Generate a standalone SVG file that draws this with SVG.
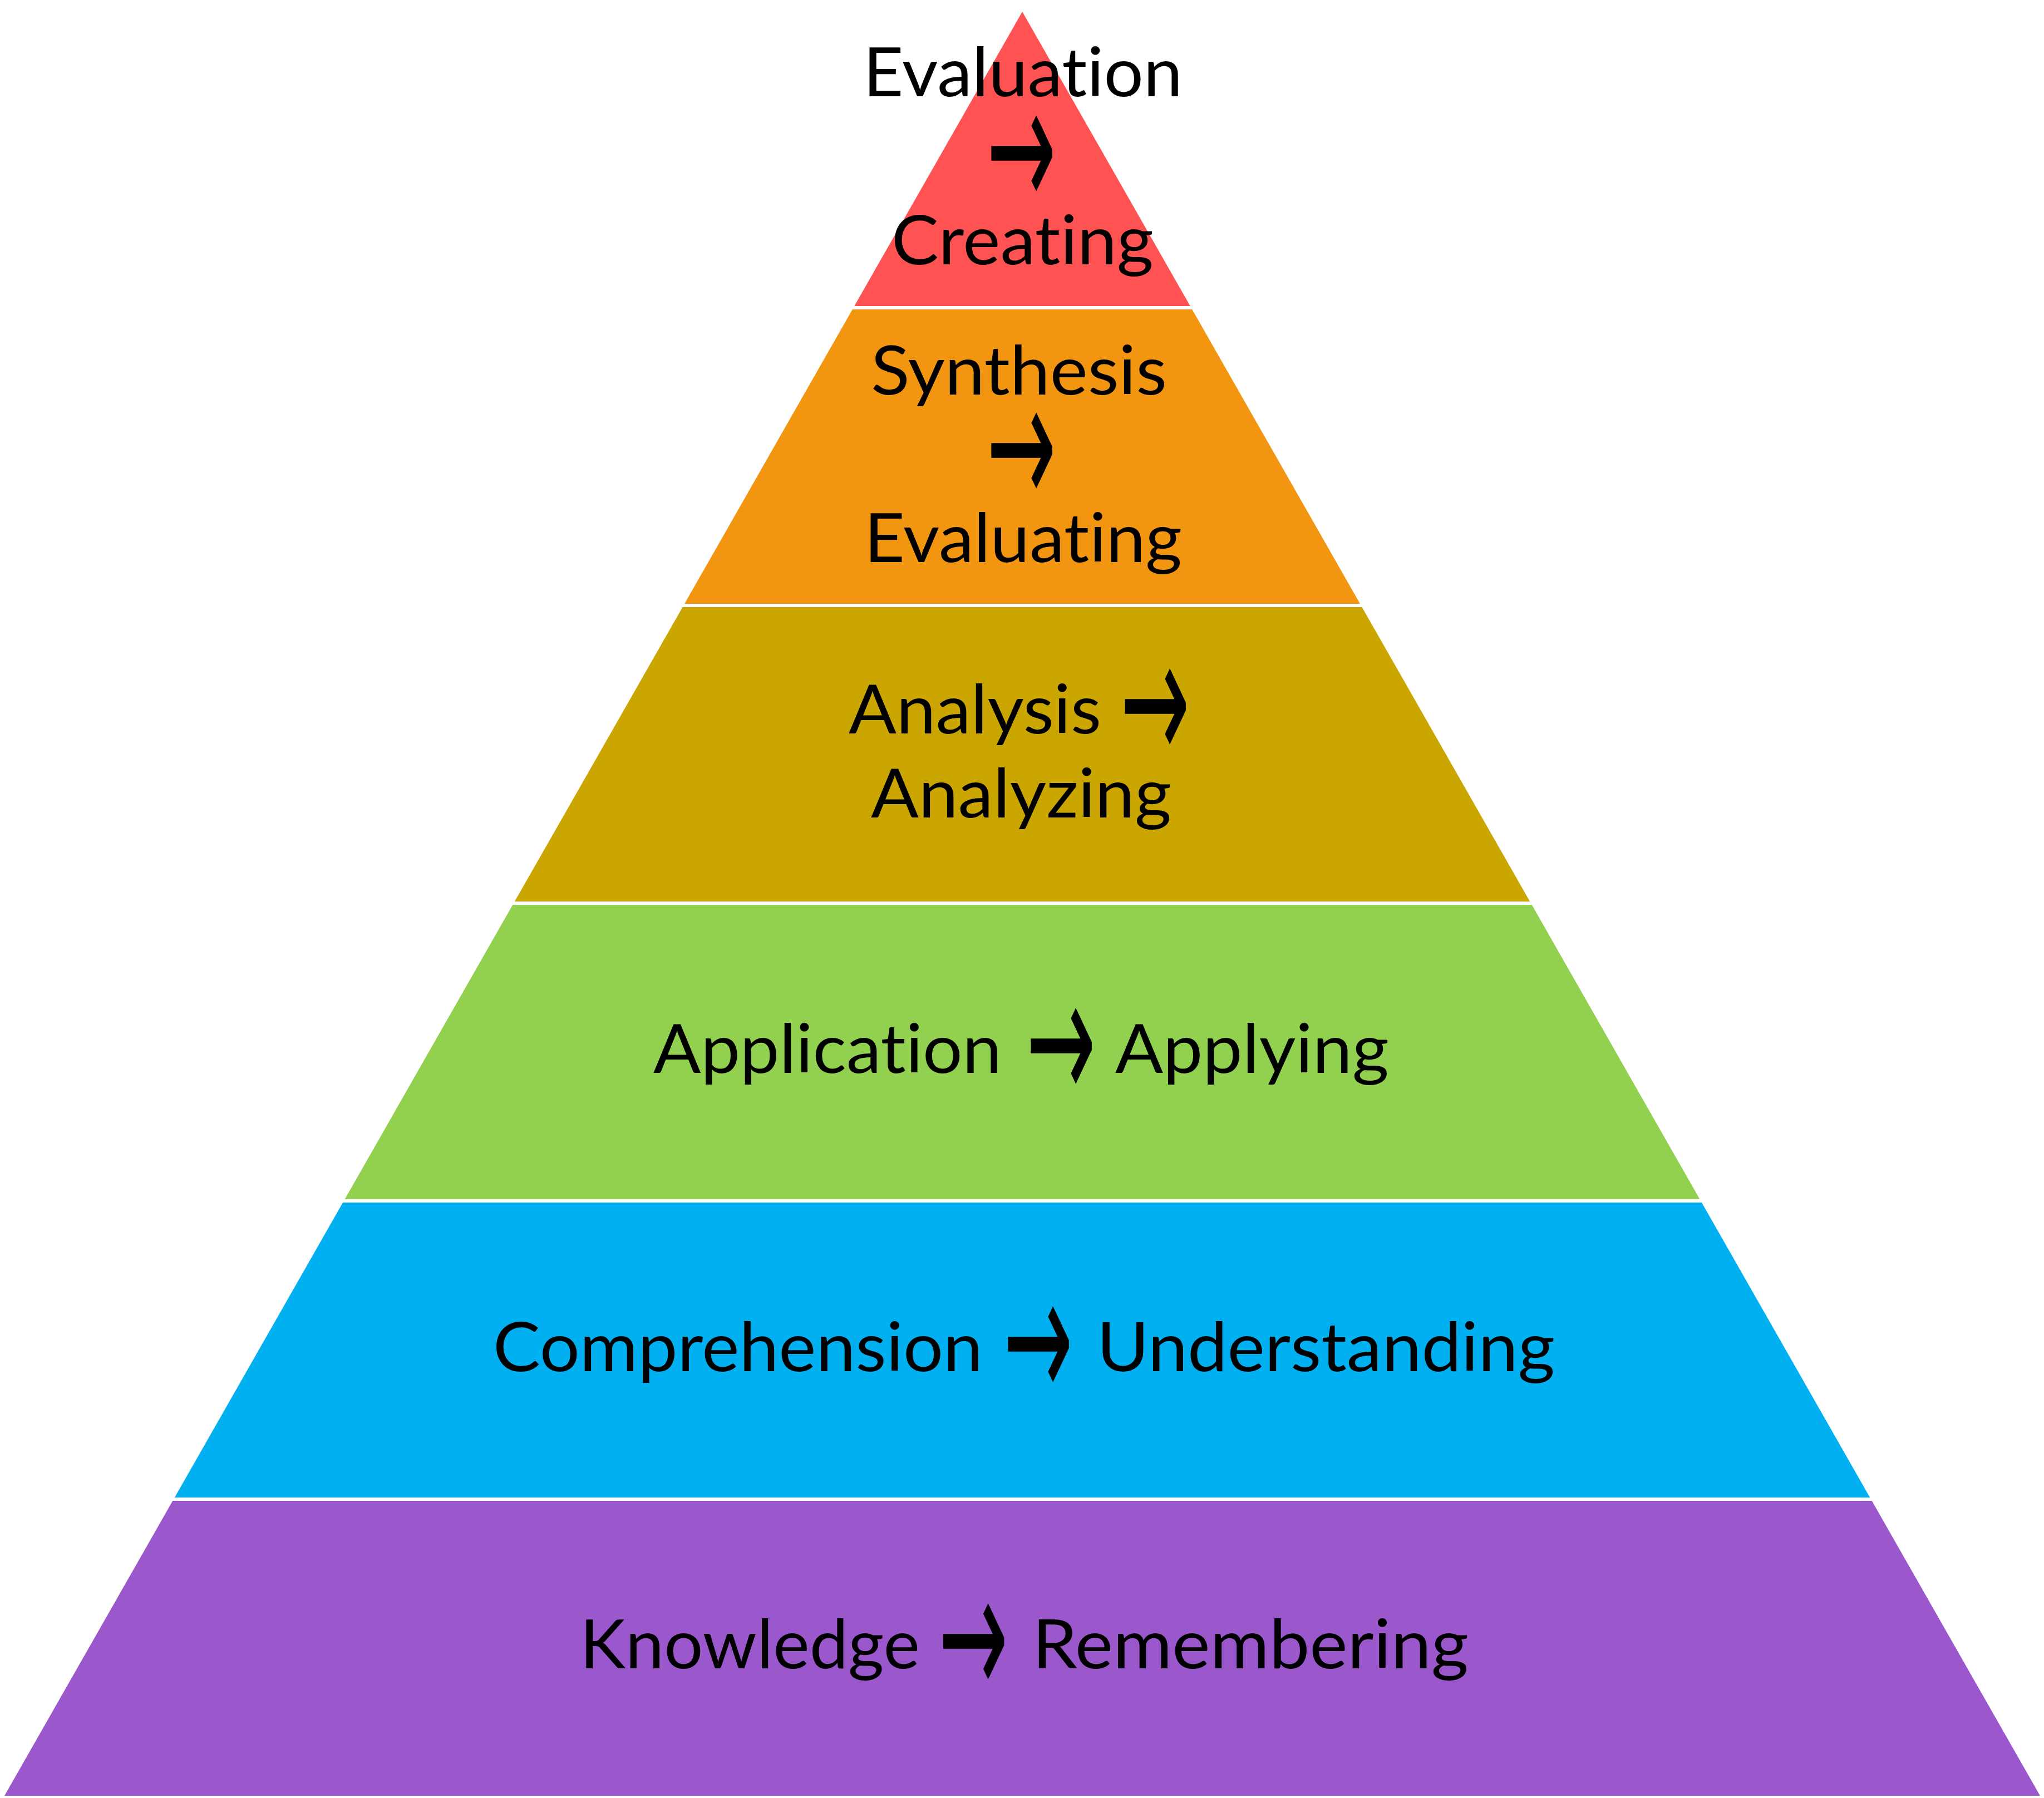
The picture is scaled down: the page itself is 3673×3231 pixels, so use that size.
<svg xmlns="http://www.w3.org/2000/svg" width="3673" height="3231" viewBox="0 0 3673 3231">
<style>
.t{font-family:Lato,"Liberation Sans",sans-serif;font-size:122px;fill:#000;font-variant-ligatures:none;font-feature-settings:"liga" 0}
.a{font-family:"Noto Sans","DejaVu Sans",sans-serif;font-size:220px;fill:#000;text-anchor:middle}
</style>
<rect width="3673" height="3231" fill="#fff"/>
<g id="level1">
<polygon points="1837,21 2138.8,550 1535.2,550" fill="#FF5252"/>
<text class="t" x="1551" y="173" textLength="574" lengthAdjust="spacingAndGlyphs">Evaluation</text>
<text class="a" transform="translate(1835.5,274) scale(0.68,1.45)" x="0" y="70">→</text>
<text class="t" x="1602" y="475" textLength="471" lengthAdjust="spacingAndGlyphs">Creating</text>
</g>
<g id="level2">
<polygon points="1531.8,556 2142.2,556 2444,1085 1230,1085" fill="#F29611"/>
<text class="t" x="1565" y="709" textLength="532" lengthAdjust="spacingAndGlyphs">Synthesis</text>
<text class="a" transform="translate(1835.5,808) scale(0.68,1.45)" x="0" y="70">→</text>
<text class="t" x="1553" y="1010" textLength="571" lengthAdjust="spacingAndGlyphs">Evaluating</text>
</g>
<g id="level3">
<polygon points="1226.6,1091 2447.4,1091 2749.2,1620 924.8,1620" fill="#CCA600"/>
<text class="t" x="1525" y="1318" textLength="454" lengthAdjust="spacingAndGlyphs">Analysis</text>
<text class="a" transform="translate(2075.5,1268) scale(0.68,1.45)" x="0" y="70">→</text>
<text class="t" x="1565" y="1469" textLength="540" lengthAdjust="spacingAndGlyphs">Analyzing</text>
</g>
<g id="level4">
<polygon points="921.3,1626 2752.7,1626 3054.4,2155 619.6,2155" fill="#92D050"/>
<text class="t" x="1174" y="1928" textLength="626" lengthAdjust="spacingAndGlyphs">Application</text>
<text class="a" transform="translate(1906.5,1878) scale(0.68,1.45)" x="0" y="70">→</text>
<text class="t" x="2004" y="1928" textLength="492" lengthAdjust="spacingAndGlyphs">Applying</text>
</g>
<g id="level5">
<polygon points="616.1,2161 3057.9,2161 3360.2,2691 313.8,2691" fill="#00B0F0"/>
<text class="t" x="886" y="2464" textLength="880" lengthAdjust="spacingAndGlyphs">Comprehension</text>
<text class="a" transform="translate(1865.5,2414) scale(0.68,1.45)" x="0" y="70">→</text>
<text class="t" x="1971" y="2464" textLength="823" lengthAdjust="spacingAndGlyphs">Understanding</text>
</g>
<g id="level6">
<polygon points="310.3,2697 3363.7,2697 3666,3227 8,3227" fill="#9B58CC"/>
<text class="t" x="1042" y="2998" textLength="611" lengthAdjust="spacingAndGlyphs">Knowledge</text>
<text class="a" transform="translate(1749,2948) scale(0.68,1.45)" x="0" y="70">→</text>
<text class="t" x="1855" y="2998" textLength="784" lengthAdjust="spacingAndGlyphs">Remembering</text>
</g>
<g id="connectors"></g>
</svg>
